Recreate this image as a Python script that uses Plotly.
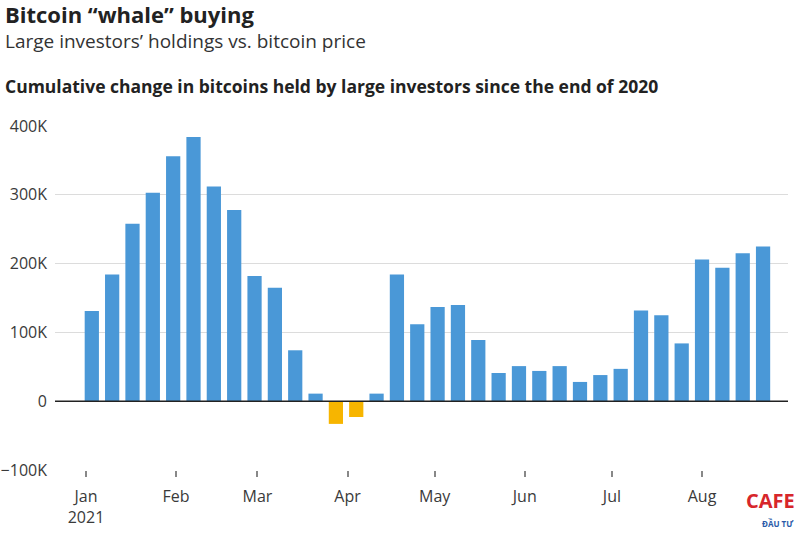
import plotly.graph_objects as go

weeks = ["2021-01-03", "2021-01-10", "2021-01-17", "2021-01-24", "2021-01-31",
         "2021-02-07", "2021-02-14", "2021-02-21", "2021-02-28", "2021-03-07",
         "2021-03-14", "2021-03-21", "2021-03-28", "2021-04-04", "2021-04-11",
         "2021-04-18", "2021-04-25", "2021-05-02", "2021-05-09", "2021-05-16",
         "2021-05-23", "2021-05-30", "2021-06-06", "2021-06-13", "2021-06-20",
         "2021-06-27", "2021-07-04", "2021-07-11", "2021-07-18", "2021-07-25",
         "2021-08-01", "2021-08-08", "2021-08-15", "2021-08-22"]
change = [131000, 184000, 258000, 303000, 356000, 384000, 312000, 278000, 182000, 165000,
          74000, 11000, -33000, -23000, 11000, 184000, 112000, 137000, 140000, 89000,
          41000, 51000, 44000, 51000, 28000, 38000, 47000, 132000, 125000, 84000,
          206000, 194000, 215000, 225000]

month_ticks = ["2021-01-01", "2021-02-01", "2021-03-01", "2021-04-01",
               "2021-05-01", "2021-06-01", "2021-07-01", "2021-08-01"]
month_labels = ["Jan<br>2021", "Feb", "Mar", "Apr", "May", "Jun", "Jul", "Aug"]

y_ticks = [-100000, 0, 100000, 200000, 300000, 400000]
y_labels = ["\u2212100K", "0", "100K", "200K", "300K", "400K"]

BLUE = "#4a98d7"
GOLD = "#f7b500"
colors = [BLUE if v >= 0 else GOLD for v in change]

FONT = "'Open Sans', sans-serif"

fig = go.Figure()
fig.add_trace(go.Bar(
    x=weeks, y=change,
    marker=dict(color=colors, line=dict(width=0)),
    width=4.9 * 24 * 3600 * 1000,
))

fig.update_layout(
    width=800, height=535,
    margin=dict(l=55, r=12, t=126, b=65, autoexpand=False),
    paper_bgcolor="white", plot_bgcolor="white",
    showlegend=False,
    font=dict(family=FONT, color="#333"),
    xaxis=dict(
        type="date", automargin=False,
        range=["2020-12-21 08:00", "2021-08-30 14:00"],
        tickvals=month_ticks, ticktext=month_labels,
        ticks="outside", ticklen=6, tickcolor="#888", tickwidth=1.5,
        ticklabelstandoff=6,
        showgrid=False, zeroline=False, showline=False,
        tickfont=dict(size=16, color="#3a3a3a", family=FONT),
    ),
    yaxis=dict(
        range=[-100000, 400000], automargin=False,
        tickvals=y_ticks, ticktext=y_labels,
        showgrid=True, gridcolor="#dcdcdc", gridwidth=1,
        zeroline=False,
        ticks="", ticklabelstandoff=7,
        tickfont=dict(size=16, color="#3a3a3a", family=FONT),
    ),
)

fig.add_shape(type="line", xref="paper", yref="y", x0=0, x1=1, y0=0, y1=0,
              line=dict(color="#222", width=1.5), layer="above")

def px_y(p):
    return (470 - p) / 344.0

def px_x(p):
    return (p - 55) / 733.0

fig.add_annotation(text="<b>Bitcoin \u201cwhale\u201d buying</b>", xref="paper", yref="paper",
                   x=px_x(3), y=px_y(14), xanchor="left", yanchor="middle", showarrow=False,
                   font=dict(size=22, color="#222", family=FONT))
fig.add_annotation(text="Large investors\u2019 holdings vs. bitcoin price", xref="paper", yref="paper",
                   x=px_x(3), y=px_y(41), xanchor="left", yanchor="middle", showarrow=False,
                   font=dict(size=19, color="#333", family=FONT))
fig.add_annotation(text="<b>Cumulative change in bitcoins held by large investors since the end of 2020</b>",
                   xref="paper", yref="paper",
                   x=px_x(3), y=px_y(86), xanchor="left", yanchor="middle", showarrow=False,
                   font=dict(size=17.5, color="#222", family=FONT))
fig.add_annotation(text="<b>CAFE</b>", xref="paper", yref="paper",
                   x=px_x(797), y=px_y(500), xanchor="right", yanchor="middle", showarrow=False,
                   font=dict(size=20, color="#d7262b", family=FONT))
fig.add_annotation(text="<b>ĐẦU TƯ</b>", xref="paper", yref="paper",
                   x=px_x(796), y=px_y(523), xanchor="right", yanchor="middle", showarrow=False,
                   font=dict(size=8, color="#2a5aa8", family=FONT))

fig.write_html("out.html")
